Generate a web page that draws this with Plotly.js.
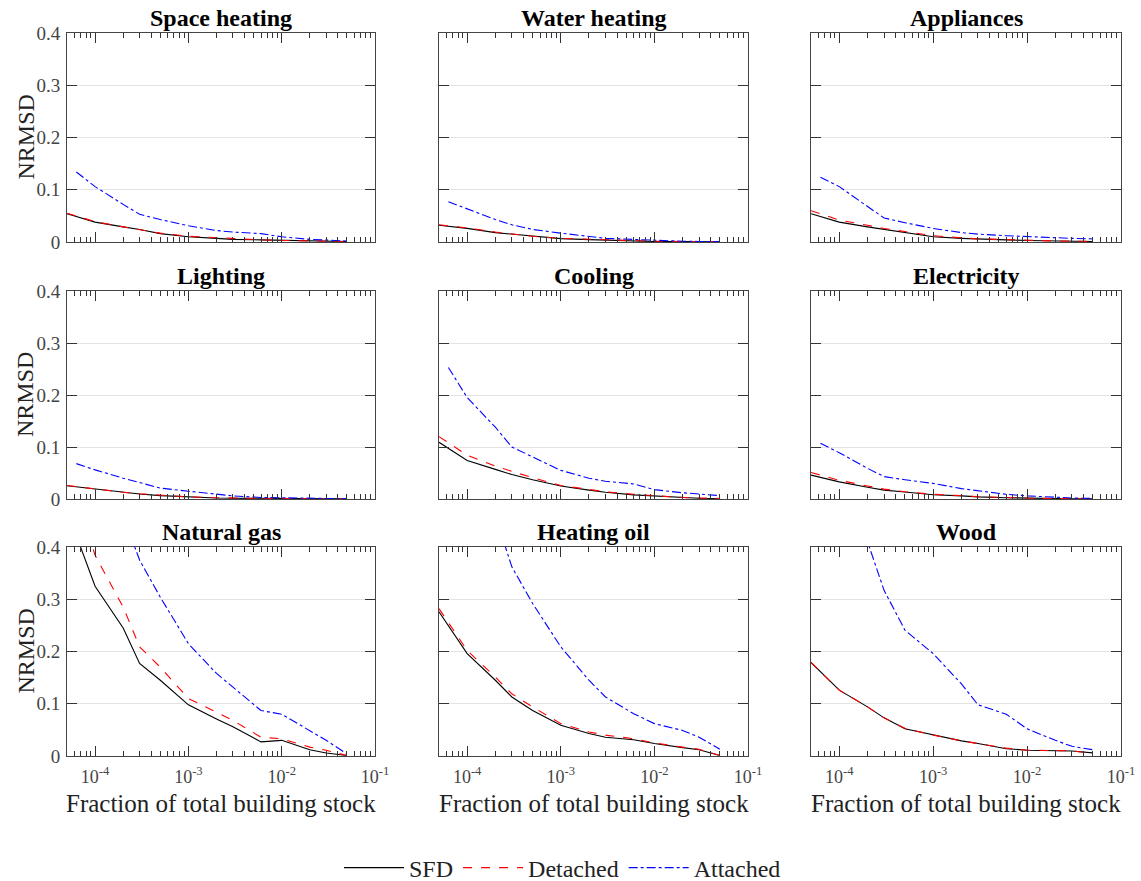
<!DOCTYPE html>
<html>
<head>
<meta charset="utf-8">
<script src="https://cdn.plot.ly/plotly-3.0.1.min.js"></script>
<style>
html,body{margin:0;padding:0;background:#fff;}
#chart{width:1141px;height:881px;}
</style>
</head>
<body>
<div id="chart"></div>
<script>
// ---- data ----
const panelTitles = ["Space heating","Water heating","Appliances","Lighting","Cooling","Electricity","Natural gas","Heating oil","Wood"];
const seriesNames = ["SFD","Detached","Attached"];
const xTickVals = [1e-4, 1e-3, 1e-2, 1e-1];
const xTickText = ["10<sup>-4</sup>","10<sup>-3</sup>","10<sup>-2</sup>","10<sup>-1</sup>"];
const yTickVals = [0, 0.1, 0.2, 0.3, 0.4];
const yTickText = ["0","0.1","0.2","0.3","0.4"];

const fracSFD = [5e-5, 1e-4, 2e-4, 3e-4, 5e-4, 1e-3, 2e-3, 3e-3, 6e-3, 1e-2, 2e-2, 3e-2, 5e-2];
const fracAtt = [6.3e-5, 1e-4, 2e-4, 3e-4, 5e-4, 1e-3, 2e-3, 3e-3, 6e-3, 1e-2, 2e-2, 3e-2, 5e-2];

const spaceSFD = [0.054, 0.038, 0.029, 0.024, 0.016, 0.010, 0.007, 0.005, 0.004, 0.003, 0.0015, 0.001, 0.001];
const spaceDet = [0.055, 0.039, 0.029, 0.024, 0.017, 0.011, 0.008, 0.006, 0.004, 0.003, 0.002, 0.001, 0.001];
const spaceAtt = [0.134, 0.106, 0.072, 0.053, 0.043, 0.031, 0.022, 0.019, 0.016, 0.010, 0.005, 0.004, 0.002];

const waterSFD = [0.032, 0.026, 0.018, 0.015, 0.0105, 0.0065, 0.0045, 0.0035, 0.0025, 0.001, 0.0007, 0.0005, 0.0005];
const waterDet = [0.033, 0.027, 0.019, 0.015, 0.011, 0.007, 0.005, 0.004, 0.003, 0.0015, 0.001, 0.0007, 0.0005];
const waterAtt = [0.077, 0.063, 0.043, 0.033, 0.024, 0.017, 0.011, 0.007, 0.005, 0.003, 0.0015, 0.001, 0.0005];

const applSFD = [0.054, 0.038, 0.029, 0.024, 0.018, 0.010, 0.007, 0.0055, 0.004, 0.003, 0.002, 0.0015, 0.001];
const applDet = [0.060, 0.042, 0.032, 0.026, 0.020, 0.012, 0.008, 0.006, 0.0045, 0.003, 0.002, 0.0015, 0.001];
const applAtt = [0.124, 0.106, 0.068, 0.046, 0.037, 0.026, 0.018, 0.015, 0.012, 0.010, 0.008, 0.007, 0.006];

const lightSFD = [0.0255, 0.019, 0.013, 0.0096, 0.0065, 0.004, 0.002, 0.0015, 0.001, 0.0007, 0.0005, 0.0005, 0.0005];
const lightDet = [0.026, 0.019, 0.013, 0.010, 0.007, 0.004, 0.0025, 0.0015, 0.001, 0.0007, 0.0005, 0.0005, 0.0005];
const lightAtt = [0.068, 0.056, 0.040, 0.031, 0.021, 0.015, 0.009, 0.006, 0.003, 0.002, 0.001, 0.001, 0.001];

const coolSFD = [0.109, 0.074, 0.057, 0.047, 0.037, 0.025, 0.017, 0.013, 0.008, 0.0057, 0.0025, 0.0015, 0.0005];
const coolDet = [0.120, 0.084, 0.063, 0.053, 0.041, 0.026, 0.018, 0.014, 0.009, 0.006, 0.003, 0.002, 0.001];
const coolAtt = [0.253, 0.195, 0.138, 0.100, 0.081, 0.055, 0.040, 0.034, 0.029, 0.018, 0.012, 0.009, 0.0065];

const elecSFD = [0.046, 0.033, 0.0225, 0.017, 0.0135, 0.0083, 0.006, 0.004, 0.0025, 0.0013, 0.0008, 0.0005, 0.0005];
const elecDet = [0.051, 0.036, 0.025, 0.019, 0.014, 0.009, 0.0065, 0.0045, 0.003, 0.0015, 0.001, 0.0007, 0.0005];
const elecAtt = [0.107, 0.089, 0.059, 0.043, 0.037, 0.030, 0.020, 0.016, 0.009, 0.006, 0.003, 0.002, 0.001];

const gasSFD = [0.47, 0.325, 0.245, 0.177, 0.145, 0.098, 0.071, 0.056, 0.027, 0.030, 0.012, 0.0057, 0.001];
const gasDet = [0.56, 0.384, 0.285, 0.209, 0.170, 0.110, 0.084, 0.068, 0.036, 0.033, 0.017, 0.011, 0.001];
const gasAtt = [0.75, 0.60, 0.46, 0.375, 0.304, 0.215, 0.158, 0.132, 0.087, 0.080, 0.049, 0.030, 0.004];

const oilSFD = [0.276, 0.196, 0.145, 0.113, 0.087, 0.059, 0.043, 0.036, 0.031, 0.024, 0.016, 0.012, 0.001];
const oilDet = [0.282, 0.202, 0.151, 0.119, 0.094, 0.062, 0.046, 0.040, 0.033, 0.025, 0.017, 0.013, 0.001];
const oilAtt = [0.70, 0.60, 0.46, 0.362, 0.292, 0.209, 0.145, 0.113, 0.081, 0.062, 0.049, 0.036, 0.013];

const woodSFD = [0.179, 0.126, 0.094, 0.073, 0.052, 0.040, 0.029, 0.024, 0.014, 0.011, 0.0096, 0.0096, 0.006];
const woodDet = [0.179, 0.126, 0.094, 0.073, 0.053, 0.040, 0.029, 0.024, 0.015, 0.011, 0.010, 0.010, 0.0045];
const woodAtt = [0.65, 0.55, 0.41, 0.317, 0.241, 0.196, 0.138, 0.098, 0.080, 0.052, 0.030, 0.0185, 0.012];

const panelData = [
  [spaceSFD, spaceDet, spaceAtt], [waterSFD, waterDet, waterAtt], [applSFD, applDet, applAtt],
  [lightSFD, lightDet, lightAtt], [coolSFD, coolDet, coolAtt], [elecSFD, elecDet, elecAtt],
  [gasSFD, gasDet, gasAtt], [oilSFD, oilDet, oilAtt], [woodSFD, woodDet, woodAtt]
];

// ---- layout geometry ----
const W = 1141, H = 881;
const colPx = [[67, 375], [439, 748], [811, 1121]];
const rowPx = [[33, 242], [291, 499], [547, 756]];
const font = "Liberation Serif";

const styles = [
  {color: "#000000", dash: "solid"},
  {color: "#ff0000", dash: "dash"},
  {color: "#0000ff", dash: "dashdot"}
];

const traces = [];
const layout = {
  width: W, height: H,
  margin: {l: 0, r: 0, t: 0, b: 0, autoexpand: false},
  paper_bgcolor: "#ffffff", plot_bgcolor: "#ffffff",
  font: {family: font, color: "#333333", size: 17},
  showlegend: true,
  legend: {
    orientation: "h", xref: "container", yref: "container",
    x: 0.493, xanchor: "center", y: 13 / H, yanchor: "middle",
    font: {family: font, size: 24, color: "#222222"}, itemwidth: 60,
    bgcolor: "rgba(0,0,0,0)"
  },
  annotations: []
};

for (let p = 0; p < 9; p++) {
  const r = Math.floor(p / 3), c = p % 3;
  const ax = p === 0 ? "" : String(p + 1);
  for (let s = 0; s < 3; s++) {
    traces.push({
      type: "scatter", mode: "lines",
      x: s === 2 ? fracAtt : fracSFD,
      y: panelData[p][s],
      name: seriesNames[s],
      legendgroup: seriesNames[s],
      showlegend: p === 0,
      xaxis: "x" + ax, yaxis: "y" + ax,
      line: {color: styles[s].color, dash: styles[s].dash, width: 1.1}
    });
  }
  const xd = [colPx[c][0] / W, colPx[c][1] / W];
  const yd = [1 - rowPx[r][1] / H, 1 - rowPx[r][0] / H];
  layout["xaxis" + ax] = {
    domain: xd, anchor: "y" + ax, type: "log",
    range: [Math.log10(5e-5), -1],
    tickmode: "array", tickvals: xTickVals, ticktext: xTickText,
    showticklabels: r === 2, ticklabelstandoff: 4,
    ticks: "inside", ticklen: 10, tickcolor: "#333333", tickwidth: 1,
    minor: {ticks: "inside", ticklen: 5, tickcolor: "#333333", dtick: "D1", showgrid: false},
    showline: true, linecolor: "#444444", linewidth: 1, mirror: "ticks",
    showgrid: false, zeroline: false,
    tickfont: {family: font, size: 18, color: "#444444"}
  };
  layout["yaxis" + ax] = {
    domain: yd, anchor: "x" + ax,
    range: [0, 0.4],
    tickmode: "array", tickvals: yTickVals, ticktext: yTickText,
    showticklabels: c === 0, ticklabelstandoff: 2,
    ticks: "inside", ticklen: 10, tickcolor: "#333333", tickwidth: 1,
    showline: true, linecolor: "#444444", linewidth: 1, mirror: "ticks",
    showgrid: true, gridcolor: "#e3e3e3", gridwidth: 1, zeroline: false,
    tickfont: {family: font, size: 19, color: "#444444"}
  };
  // panel title
  layout.annotations.push({
    text: "<b>" + panelTitles[p] + "</b>", xref: "paper", yref: "paper",
    x: (xd[0] + xd[1]) / 2, y: 1 - (rowPx[r][0] - 15) / H, xanchor: "center", yanchor: "middle",
    showarrow: false, font: {family: font, size: 24, color: "#000000"}
  });
  if (c === 0) {
    layout.annotations.push({
      text: "NRMSD", xref: "paper", yref: "paper", textangle: -90,
      x: 25 / W, y: (yd[0] + yd[1]) / 2, xanchor: "center", yanchor: "middle",
      showarrow: false, font: {family: font, size: 24, color: "#222222"}
    });
  }
  if (r === 2) {
    layout.annotations.push({
      text: "Fraction of total building stock", xref: "paper", yref: "paper",
      x: (xd[0] + xd[1]) / 2, y: 1 - 803 / H, xanchor: "center", yanchor: "middle",
      showarrow: false, font: {family: font, size: 25, color: "#222222"}
    });
  }
}

Plotly.newPlot("chart", traces, layout, {displayModeBar: false, staticPlot: true});
</script>
</body>
</html>
